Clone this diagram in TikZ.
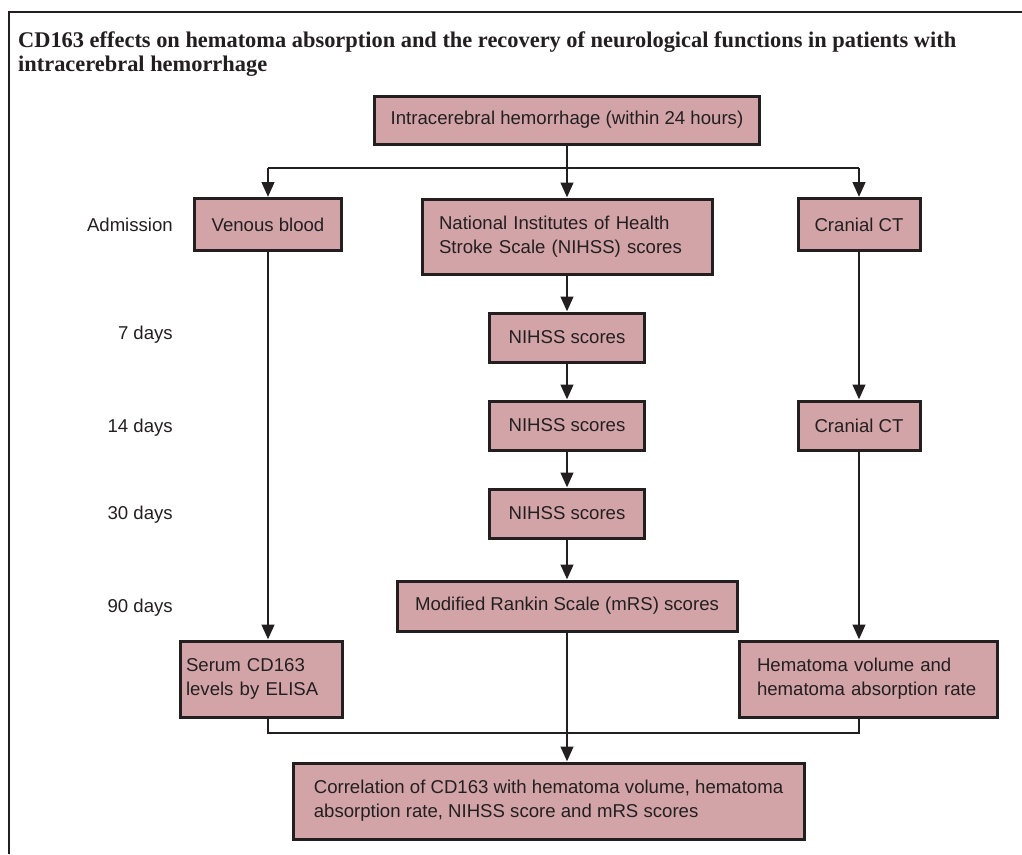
\documentclass[tikz,border=0pt]{standalone}
\usepackage{fontspec}
\setmainfont{Liberation Sans}
\newfontfamily\titleserif{Liberation Serif}
\usetikzlibrary{arrows.meta}
\definecolor{boxfill}{RGB}{210,164,167}
\definecolor{ink}{RGB}{35,31,32}
\newcommand{\boxfont}{\fontsize{18.6}{24}\selectfont}
\newcommand{\headfont}{\titleserif\bfseries\fontsize{22.4}{24}\selectfont}
\tikzset{
  fbox/.style={draw=ink, line width=3pt, fill=boxfill, text=ink, inner sep=0pt, align=center, font=\boxfont},
  lbox/.style={fbox, align=left},
  tlabel/.style={anchor=east, text=ink, font=\boxfont, inner sep=0pt},
  conn/.style={draw=ink, line width=2.8pt},
  arr/.style={conn, -{Triangle[length=15pt,width=12.5pt]}},
}
\begin{document}
\begin{tikzpicture}[x=1pt,y=-1pt]
\useasboundingbox (0,0) rectangle (1022,854);
% frame
\coordinate (f1) at (9,854);
\coordinate (f2) at (9,12);
\coordinate (f3) at (1022,12);
\draw[draw=ink, line width=1.8pt] (f1) -- (f2) -- (f3);
% title
\node[anchor=base west, inner sep=0pt, text=ink, font=\headfont] (title1) at (18,47) {CD163 effects on hematoma absorption and the recovery of neurological functions in patients with};
\node[anchor=base west, inner sep=0pt, text=ink, font=\headfont] (title2) at (18,71) {intracerebral hemorrhage};
% boxes
\node[fbox, minimum width=385pt, minimum height=48pt] (top) at (567,120) {Intracerebral hemorrhage (within 24 hours)};
\node[fbox, minimum width=147pt, minimum height=52pt] (venous) at (268,224.5) {Venous blood};
\node[lbox, minimum width=290pt, minimum height=75pt, inner xsep=17pt, text width=256pt] (nihss0) at (567,236.5) {National Institutes of Health\\Stroke Scale (NIHSS) scores};
\node[fbox, minimum width=122pt, minimum height=52pt] (ct0) at (859,224.5) {Cranial CT};
\node[fbox, minimum width=155pt, minimum height=49pt] (nihss7) at (567,337.5) {NIHSS scores};
\node[fbox, minimum width=155pt, minimum height=49pt] (nihss14) at (567,425.5) {NIHSS scores};
\node[fbox, minimum width=122pt, minimum height=49pt] (ct14) at (859,425.5) {Cranial CT};
\node[fbox, minimum width=155pt, minimum height=49pt] (nihss30) at (567,513.5) {NIHSS scores};
\node[fbox, minimum width=340pt, minimum height=50pt] (mrs) at (567,606) {Modified Rankin Scale (mRS) scores};
\node[lbox, minimum width=162pt, minimum height=76pt, inner xsep=6pt, text width=150pt] (serum) at (261,679) {Serum CD163\\levels by ELISA};
\node[lbox, minimum width=258pt, minimum height=76pt, inner xsep=18pt, text width=222pt] (hema) at (868,679) {Hematoma volume and\\hematoma absorption rate};
\node[lbox, minimum width=511pt, minimum height=76pt] (corr) at (548.5,801) {Correlation of CD163 with hematoma volume, hematoma\\absorption rate, NIHSS score and mRS scores};
% time labels
\node[tlabel] (tAdm) at (173,224.5) {Admission};
\node[tlabel] (t7) at (173,335) {7 days};
\node[tlabel] (t14) at (173,428) {14 days};
\node[tlabel] (t30) at (173,515) {30 days};
\node[tlabel] (t90) at (173,608) {90 days};
% connectors
\coordinate (jL) at (268,168);
\coordinate (jC) at (567,168);
\coordinate (jR) at (859,168);
\coordinate (bL) at (268,733);
\coordinate (bR) at (859,733);
\draw[conn] (top.south) -- (jC);
\draw[conn] (jL) -- (jR);
\draw[arr] (jL) -- (venous.north);
\draw[arr] (jC) -- (nihss0.north);
\draw[arr] (jR) -- (ct0.north);
\draw[arr] (nihss0.south) -- (nihss7.north);
\draw[arr] (nihss7.south) -- (nihss14.north);
\draw[arr] (nihss14.south) -- (nihss30.north);
\draw[arr] (nihss30.south) -- (mrs.north);
\draw[arr] (ct0.south) -- (ct14.north);
\draw[arr] (venous.south) -- (venous.south |- serum.north);
\draw[arr] (ct14.south) -- (ct14.south |- hema.north);
\draw[conn] (venous.south |- serum.south) -- (bL) -- (bR) -- (ct14.south |- hema.south);
\draw[arr] (mrs.south) -- (corr.north -| mrs.south);
\end{tikzpicture}
\end{document}
